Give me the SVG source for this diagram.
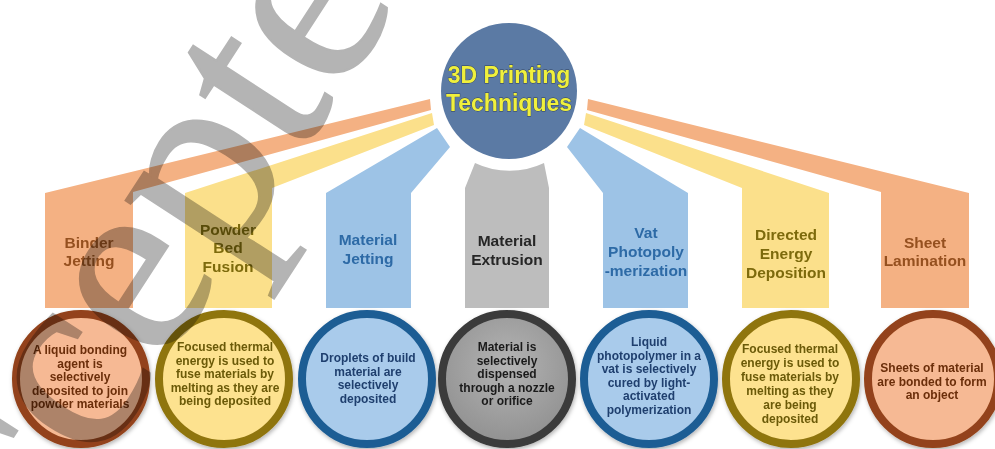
<svg xmlns="http://www.w3.org/2000/svg" width="995" height="449" viewBox="0 0 995 449">
<defs>
<style>
.t{font-family:"Liberation Sans",Arial,sans-serif;font-weight:bold;text-anchor:middle}
.h{font-size:15.5px}
.d{font-size:12px}
.or{fill:#f4b183}.ye{fill:#fbe08b}.bl{fill:#9dc3e6}.gr{fill:#bdbdbd}
.tor{fill:#95501f}.tye{fill:#7d6a0c}.tbl{fill:#2d6aa6}.tgr{fill:#262626}
.cor{fill:#f6b994;stroke:#93431a;stroke-width:8}
.cye{fill:#fde28f;stroke:#8f7410;stroke-width:8}
.cbl{fill:#a9cbeb;stroke:#1d5d94;stroke-width:8}
.cgr{fill:url(#gg);stroke:#3a3a3a;stroke-width:8}
.dor{fill:#6b2e0a}.dye{fill:#6b5a08}.dbl{fill:#1f3f6e}.dgr{fill:#1a1a1a}
</style>
<radialGradient id="gg" cx="0.5" cy="0.4" r="0.6">
<stop offset="0" stop-color="#b4b4b4"/>
<stop offset="1" stop-color="#919191"/>
</radialGradient>
<filter id="sh" x="-20%" y="-20%" width="140%" height="140%">
<feDropShadow dx="1" dy="2" stdDeviation="2" flood-color="#000" flood-opacity="0.3"/>
</filter>
</defs>
<rect width="995" height="449" fill="#ffffff"/>

<g id="connectors">
<polygon class="or" points="45,308 45,193 430,99 431,110 133,192 133,308"/>
<polygon class="ye" points="185,308 185,193 432,113 434,125 272,188 272,308"/>
<polygon class="bl" points="326,308 326,193 437,128 450,147 411,193 411,308"/>
<path class="gr" d="M465,308 V188 L475,163 A80 80 0 0 0 544,163 L549,188 V308 Z"/>
<polygon class="bl" points="688,308 688,193 580,128 567,147 603,193 603,308"/>
<polygon class="ye" points="829,308 829,193 586,113 584,125 742,188 742,308"/>
<polygon class="or" points="969,308 969,193 588,99 587,110 881,192 881,308"/>
</g>

<g id="center">
<circle cx="509" cy="91" r="68" fill="#5b7aa4"/>
<text class="t" x="509" y="83" font-size="23" fill="#f0f03c" stroke="#2e3f58" stroke-width="0.8" paint-order="stroke">3D Printing</text>
<text class="t" x="509" y="111" font-size="23" fill="#f0f03c" stroke="#2e3f58" stroke-width="0.8" paint-order="stroke">Techniques</text>
</g>

<g id="binder-jetting">
<text class="t h tor" x="89" y="248">Binder</text>
<text class="t h tor" x="89" y="266">Jetting</text>
<circle class="cor" cx="81" cy="379" r="65" filter="url(#sh)"/>
<text class="t d dor"><tspan x="80" y="354">A liquid bonding</tspan><tspan x="80" y="367.5">agent is</tspan><tspan x="80" y="381">selectively</tspan><tspan x="80" y="394.5">deposited to join</tspan><tspan x="80" y="408">powder materials</tspan></text>
</g>

<g id="powder-bed-fusion">
<text class="t h tye" x="228" y="235">Powder</text>
<text class="t h tye" x="228" y="253">Bed</text>
<text class="t h tye" x="228" y="272">Fusion</text>
<circle class="cye" cx="224" cy="379" r="65" filter="url(#sh)"/>
<text class="t d dye"><tspan x="225" y="351">Focused thermal</tspan><tspan x="225" y="364.5">energy is  used to</tspan><tspan x="225" y="378">fuse materials by</tspan><tspan x="225" y="391.5">melting as they are</tspan><tspan x="225" y="405">being deposited</tspan></text>
</g>

<g id="material-jetting">
<text class="t h tbl" x="368" y="245">Material</text>
<text class="t h tbl" x="368" y="264">Jetting</text>
<circle class="cbl" cx="367" cy="379" r="65" filter="url(#sh)"/>
<text class="t d dbl"><tspan x="368" y="362">Droplets of build</tspan><tspan x="368" y="375.5">material are</tspan><tspan x="368" y="389">selectively</tspan><tspan x="368" y="402.5">deposited</tspan></text>
</g>

<g id="material-extrusion">
<text class="t h tgr" x="507" y="246">Material</text>
<text class="t h tgr" x="507" y="265">Extrusion</text>
<circle class="cgr" cx="507" cy="379" r="65" filter="url(#sh)"/>
<text class="t d dgr"><tspan x="507" y="351">Material is</tspan><tspan x="507" y="364.5">selectively</tspan><tspan x="507" y="378">dispensed</tspan><tspan x="507" y="391.5">through a nozzle</tspan><tspan x="507" y="405">or orifice</tspan></text>
</g>

<g id="vat-photopolymerization">
<text class="t h tbl" x="646" y="238">Vat</text>
<text class="t h tbl" x="646" y="257">Photopoly</text>
<text class="t h tbl" x="646" y="276">-merization</text>
<circle class="cbl" cx="649" cy="379" r="65" filter="url(#sh)"/>
<text class="t d dbl"><tspan x="649" y="346">Liquid</tspan><tspan x="649" y="359.5">photopolymer in a</tspan><tspan x="649" y="373">vat is selectively</tspan><tspan x="649" y="386.5">cured by light-</tspan><tspan x="649" y="400">activated</tspan><tspan x="649" y="413.5">polymerization</tspan></text>
</g>

<g id="directed-energy-deposition">
<text class="t h tye" x="786" y="240">Directed</text>
<text class="t h tye" x="786" y="259">Energy</text>
<text class="t h tye" x="786" y="278">Deposition</text>
<circle class="cye" cx="791" cy="379" r="65" filter="url(#sh)"/>
<text class="t d dye"><tspan x="790" y="353">Focused thermal</tspan><tspan x="790" y="367">energy is  used to</tspan><tspan x="790" y="381">fuse materials by</tspan><tspan x="790" y="395">melting as they</tspan><tspan x="790" y="409">are being</tspan><tspan x="790" y="423">deposited</tspan></text>
</g>

<g id="sheet-lamination">
<text class="t h tor" x="925" y="248">Sheet</text>
<text class="t h tor" x="925" y="266">Lamination</text>
<circle class="cor" cx="933" cy="379" r="65" filter="url(#sh)"/>
<text class="t d dor"><tspan x="932" y="372">Sheets of material</tspan><tspan x="932" y="385.5">are bonded to form</tspan><tspan x="932" y="399">an object</tspan></text>
</g>

<g id="watermark" style="mix-blend-mode:multiply">
<text x="0" y="0" transform="translate(-72,728) rotate(-57)" font-family="'Liberation Serif','Times New Roman',serif" font-size="265" fill="#b4b4b4" stroke="#b4b4b4" stroke-width="2">Accepted</text>
</g>
</svg>
